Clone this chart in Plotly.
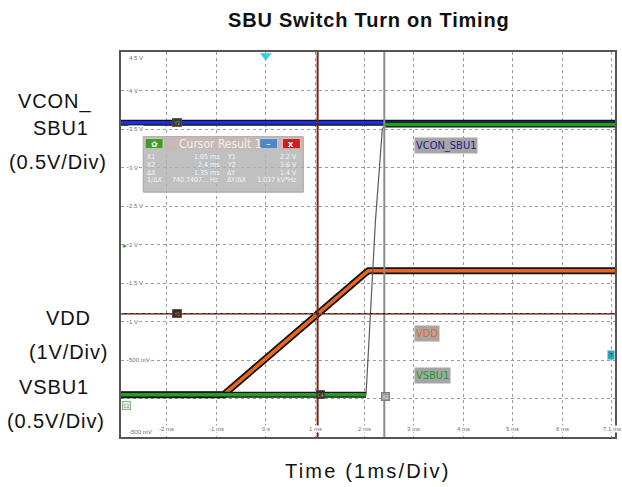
import plotly.graph_objects as go

# Horizontal axis in ms (1 ms/div), vertical axis in screen volts (0.5 V/div)
x_range = [-2.93, 7.07]
y_range = [-0.5, 4.5]

time_ticks = [-2, -1, 0, 1, 2, 3, 4, 5, 6, 7]
time_labels = ["-2 ms", "-1 ms", "0 s", "1 ms", "2 ms", "3 ms", "4 ms", "5 ms", "6 ms", "7.1 ms"]
volt_ticks = [4.5, 4.0, 3.5, 3.0, 2.5, 2.0, 1.5, 1.0, 0.5, -0.5]
volt_labels = ["4.5 V", "4 V", "3.5 V", "3 V", "2.5 V", "2 V", "1.5 V", "1 V", "500 mV", "-500 mV"]

# Captured waveforms (screen volts)
vcon_t = [-2.93, 7.07]
vcon_v = [3.58, 3.58]

vsbu_t = [-2.93, 2.03, 2.06, 2.22, 2.36, 2.42, 7.07]
vsbu_v = [0.05, 0.05, 0.40, 2.30, 3.50, 3.56, 3.56]

vdd_t = [-2.93, -0.85, 2.00, 2.08, 7.07]
vdd_v = [0.05, 0.05, 1.62, 1.66, 1.66]

# Cursors and markers
cursor_x1 = 1.05
cursor_x2 = 2.4
cursor_y1 = 1.1
trigger_time = 0.0
trigger_level = 0.565

# Cursor readout
readout_left_names = ["X1", "X2", "ΔX", "1/ΔX"]
readout_left_values = ["1.05 ms", "2.4 ms", "1.35 ms", "740.7407... Hz"]
readout_right_names = ["Y1", "Y2", "ΔY", "ΔY/ΔX"]
readout_right_values = ["2.2 V", "3.6 V", "1.4 V", "1.037 kV*Hz"]

TAG_FONT = "DejaVu Sans Condensed, DejaVu Sans, sans-serif"

fig = go.Figure()


def outlined(t, v, color, inner, outer, name):
    fig.add_trace(go.Scatter(x=t, y=v, mode="lines", line=dict(color="#111111", width=outer),
                             hoverinfo="skip", showlegend=False))
    fig.add_trace(go.Scatter(x=t, y=v, mode="lines", line=dict(color=color, width=inner),
                             name=name, showlegend=False))


# VDD ramp (orange)
outlined(vdd_t, vdd_v, "#e8661e", 3.5, 7, "VDD")
# VCON_SBU1 (blue)
outlined(vcon_t, vcon_v, "#1a2fe0", 3.5, 6, "VCON_SBU1")
# VSBU1: thin fast edge, thick settled levels
fig.add_trace(go.Scatter(x=vsbu_t, y=vsbu_v, mode="lines", line=dict(color="#5a5a5a", width=1.2),
                         hoverinfo="skip", showlegend=False))
outlined(vsbu_t[:2], vsbu_v[:2], "#22a022", 3.5, 6, "VSBU1")
outlined(vsbu_t[-2:], vsbu_v[-2:], "#22a022", 3.5, 6, "VSBU1")

# trigger position marker at the top
fig.add_trace(go.Scatter(x=[trigger_time], y=[4.45], mode="markers", cliponaxis=False,
                         marker=dict(symbol="triangle-down", size=10, color="#33d0e0"),
                         hoverinfo="skip", showlegend=False))

shapes = []
# cursors
shapes.append(dict(type="line", xref="x", yref="paper", x0=cursor_x1, x1=cursor_x1, y0=0, y1=1,
                   line=dict(color="#7a2416", width=2), layer="above"))
shapes.append(dict(type="line", xref="x", yref="paper", x0=cursor_x2, x1=cursor_x2, y0=0, y1=1,
                   line=dict(color="#8c8c8c", width=2), layer="above"))
shapes.append(dict(type="line", xref="paper", yref="y", x0=0, x1=1, y0=cursor_y1, y1=cursor_y1,
                   line=dict(color="#3a2420", width=1.6), layer="above"))
shapes.append(dict(type="line", xref="paper", yref="y", x0=0, x1=1, y0=cursor_y1, y1=cursor_y1,
                   line=dict(color="#e0502a", width=1.2, dash="3px,3px"), layer="above"))

# cursor readout window
bx0, bx1, by0, by1, bt = -2.48, 0.76, 2.68, 3.40, 3.23
shapes.append(dict(type="rect", x0=bx0, x1=bx1, y0=by0, y1=by1, layer="above",
                   fillcolor="rgba(178,178,178,0.82)", line=dict(color="#a4a4a4", width=1)))
shapes.append(dict(type="rect", x0=bx0, x1=bx1, y0=bt, y1=by1, layer="above",
                   fillcolor="rgba(200,184,180,0.85)", line=dict(width=0)))
for (x0, x1, col) in [(-2.44, -2.08, "#3f9a2a"), (-0.12, 0.24, "#4f86c8"), (0.34, 0.70, "#c81e1e")]:
    shapes.append(dict(type="rect", x0=x0, x1=x1, y0=3.245, y1=3.375, layer="above",
                       fillcolor=col, line=dict(color="#e8e8e8", width=0.6)))

ann = []
# axis labels drawn inside the graticule
for v, lab in zip(volt_ticks, volt_labels):
    ya, ys = "middle", 0
    if v == y_range[1]:
        ya, ys = "top", -2
    elif v == y_range[0]:
        ya, ys = "bottom", 1
    ann.append(dict(x=x_range[0], y=v, text=lab, showarrow=False, xanchor="left", yanchor=ya,
                    xshift=7, yshift=ys, font=dict(size=6, color="#6e6e6e", family="Liberation Sans"),
                    bgcolor="white", borderpad=0))
for t, lab in zip(time_ticks, time_labels):
    ann.append(dict(x=t, y=y_range[0], text=lab, showarrow=False, yanchor="bottom", yshift=4,
                    font=dict(size=6, color="#6e6e6e", family="Liberation Sans"),
                    bgcolor="white", borderpad=0))

# channel tags
for txt, y, col in [("VCON_SBU1", 3.28, "#1c1c8e"), ("VDD", 0.84, "#e8661e"), ("VSBU1", 0.305, "#1f9a1f")]:
    ann.append(dict(x=3.0, y=y, text=txt, showarrow=False, xanchor="left", yanchor="middle",
                    font=dict(size=11, color=col, family=TAG_FONT), bgcolor="#a6a6a6", borderpad=1))

# small on-screen marker tags
for txt, x, y, bg, fg in [("Y2", -1.80, 3.58, "#3a3a2a", "#9ab070"),
                          ("Y1", -1.80, cursor_y1, "#3a2a22", "#d08050"),
                          ("C4", 1.11, 0.05, "#2e2e24", "#c0c090"),
                          ("X2", 2.42, 0.03, "#9a9a9a", "#e8e8e8")]:
    ann.append(dict(x=x, y=y, text=txt, showarrow=False, font=dict(size=5, color=fg, family=TAG_FONT),
                    bgcolor=bg, borderpad=1, bordercolor="#555", borderwidth=0.5))
ann.append(dict(x=x_range[0], y=0.0, text="C2", showarrow=False, xanchor="left", yanchor="top",
                xshift=1, yshift=-2, font=dict(size=5, color="#888", family=TAG_FONT),
                bgcolor="#e8e8e8", bordercolor="#4aa04a", borderwidth=0.6, borderpad=1))
ann.append(dict(x=x_range[0], y=2.0, text="▸", showarrow=False, xanchor="left",
                font=dict(size=8, color="#3aa03a")))
ann.append(dict(x=x_range[1], y=trigger_level, text="T", showarrow=False, xanchor="right",
                font=dict(size=5, color="#103040", family=TAG_FONT), bgcolor="#2aa8b8", borderpad=1))

# readout text
ann.append(dict(x=-0.92, y=3.31, text="Cursor Result 1", showarrow=False,
                font=dict(size=12, color="#f4eeec", family=TAG_FONT)))
row_y = [3.136, 3.032, 2.929, 2.838]
rf = dict(size=7, color="#f6f6f6", family=TAG_FONT)
for i, yv in enumerate(row_y):
    ann.append(dict(x=-2.44, y=yv, text=readout_left_names[i], showarrow=False, xanchor="left", font=rf))
    ann.append(dict(x=-0.91, y=yv, text=readout_left_values[i], showarrow=False, xanchor="right", font=rf))
    ann.append(dict(x=-0.83, y=yv, text=readout_right_names[i], showarrow=False, xanchor="left", font=rf))
    ann.append(dict(x=0.68, y=yv, text=readout_right_values[i], showarrow=False, xanchor="right", font=rf))
ann.append(dict(x=0.06, y=3.31, text="–", showarrow=False, font=dict(size=9, color="white")))
ann.append(dict(x=0.52, y=3.31, text="<b>x</b>", showarrow=False, font=dict(size=9, color="white")))
ann.append(dict(x=-2.26, y=3.31, text="✿", showarrow=False, font=dict(size=8, color="white")))


def spaced(txt, px):
    return '<span style="letter-spacing:%.1fpx">%s</span>' % (px, txt)


# outer labels
LF = dict(size=20, color="#111111", family="Liberation Sans, Arial")
ann.append(dict(xref="paper", yref="paper", x=0.5, y=1, yshift=32, yanchor="middle",
                text="<b>" + spaced("SBU Switch Turn on Timing", 0.8) + "</b>", showarrow=False,
                font=dict(size=20, color="#111111", family="Liberation Sans, Arial")))
ann.append(dict(xref="paper", yref="paper", x=0.5, y=0, yshift=-34, yanchor="middle",
                text=spaced("Time (1ms/Div)", 2.2), showarrow=False, font=LF))
for txt, cx, cy in [("VCON_", 54, 101), ("SBU1", 61, 128), ("(0.5V/Div)", 58, 162),
                    ("VDD", 68, 318), ("(1V/Div)", 68, 352),
                    ("VSBU1", 54, 387), ("(0.5V/Div)", 56, 421)]:
    ann.append(dict(xref="paper", yref="paper", x=(cx - 121) / 496, y=(437 - cy) / 385,
                    text=spaced(txt, 0.9), showarrow=False, xanchor="center", yanchor="middle", font=LF))

fig.update_layout(
    width=622, height=487,
    margin=dict(l=121, r=5, t=52, b=50),
    paper_bgcolor="white", plot_bgcolor="white",
    shapes=shapes, annotations=ann, showlegend=False,
)
fig.update_xaxes(range=x_range, tickvals=time_ticks, showticklabels=False, ticks="",
                 showgrid=True, gridcolor="#9a9a9a", griddash="dot", gridwidth=1,
                 showline=True, mirror=True, linecolor="#555555", linewidth=1.5, zeroline=False)
fig.update_yaxes(range=y_range, dtick=0.5, tick0=0, showticklabels=False, ticks="",
                 showgrid=True, gridcolor="#9a9a9a", griddash="dot", gridwidth=1,
                 showline=True, mirror=True, linecolor="#555555", linewidth=1.5, zeroline=False)

fig.write_html("out.html")
